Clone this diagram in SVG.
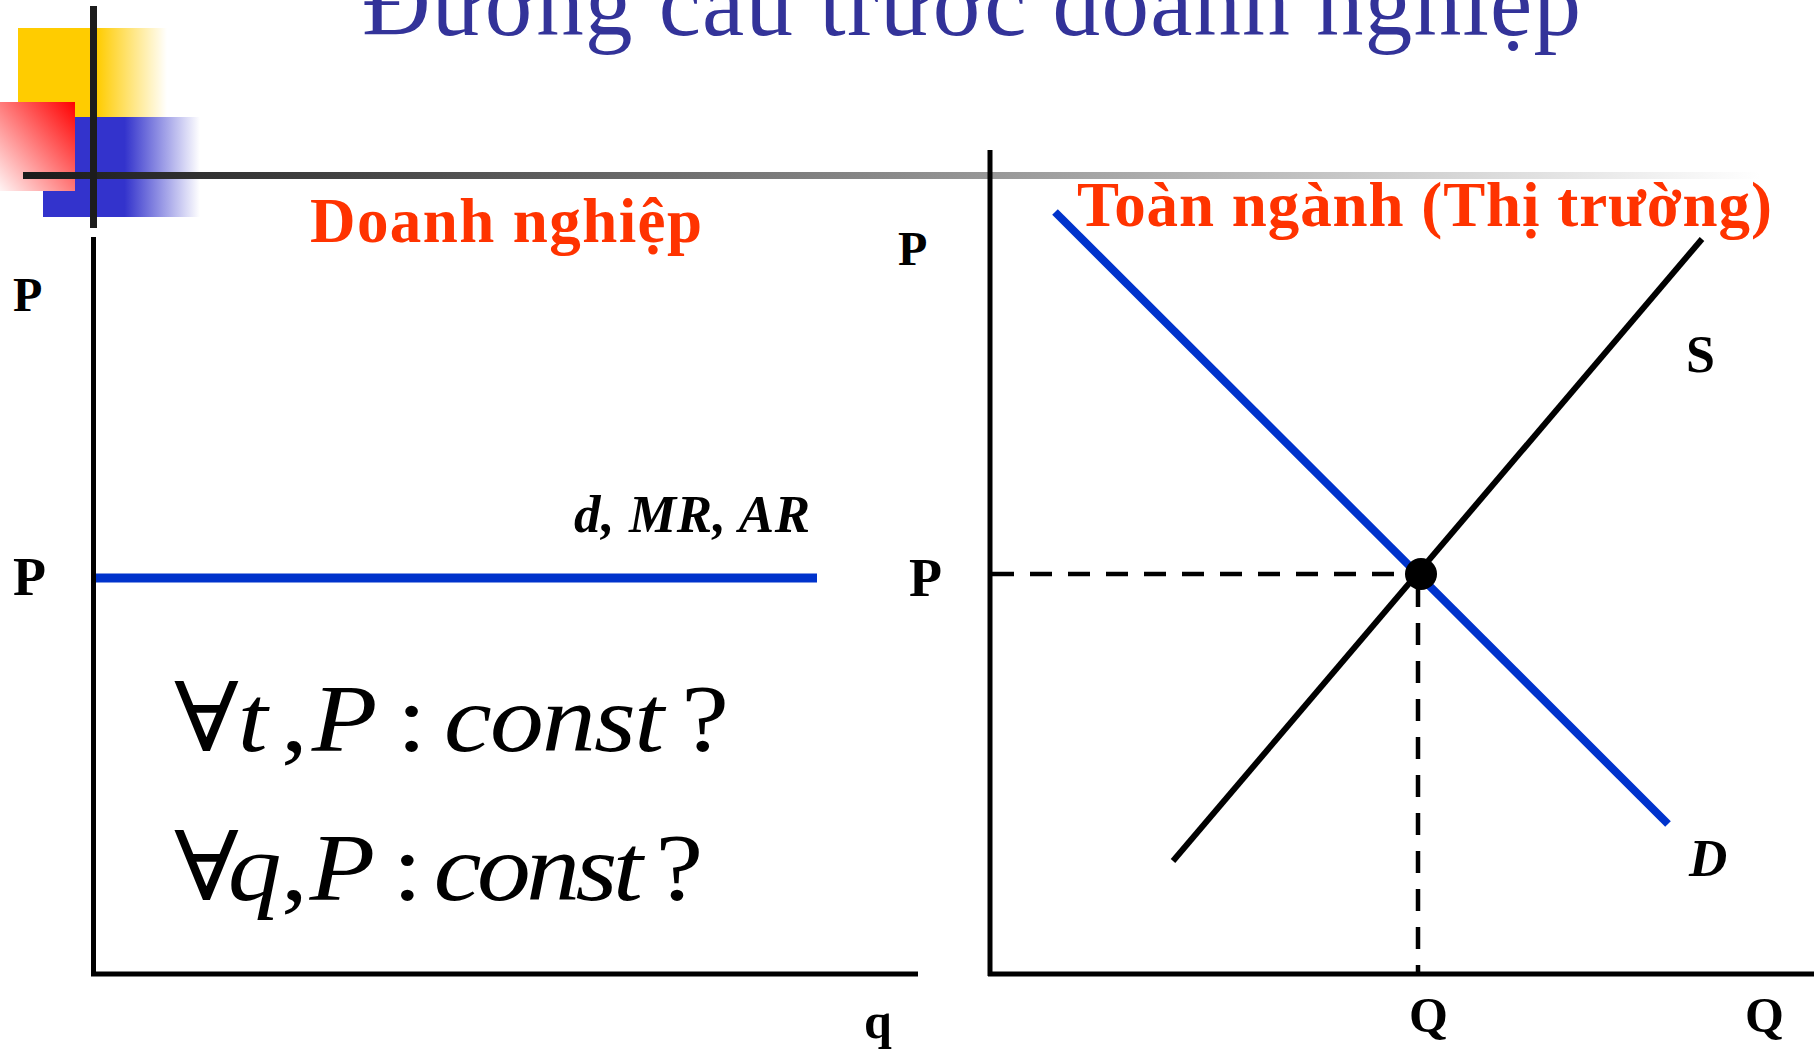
<svg xmlns="http://www.w3.org/2000/svg" width="1814" height="1052" viewBox="0 0 1814 1052">
<defs>
<linearGradient id="gYellow" x1="0" y1="0" x2="1" y2="0">
<stop offset="0" stop-color="#FFCC00"/><stop offset="0.53" stop-color="#FFCC00"/><stop offset="1" stop-color="#FFCC00" stop-opacity="0"/>
</linearGradient>
<linearGradient id="gBlue" x1="0" y1="0" x2="1" y2="0">
<stop offset="0" stop-color="#3333CC"/><stop offset="0.52" stop-color="#3333CC"/><stop offset="1" stop-color="#3333CC" stop-opacity="0"/>
</linearGradient>
<linearGradient id="gRed" x1="1" y1="0" x2="0" y2="1">
<stop offset="0" stop-color="#FF0000"/><stop offset="1" stop-color="#FFF4F4"/>
</linearGradient>
<linearGradient id="gBar" gradientUnits="userSpaceOnUse" x1="23" y1="0" x2="1760" y2="0">
<stop offset="0" stop-color="#1a1a1a"/><stop offset="0.5" stop-color="#8a8a8a"/><stop offset="1" stop-color="#ffffff"/>
</linearGradient>
<style>
.ax{stroke:#000;stroke-width:5;fill:none}
.dash{stroke:#000;stroke-width:4.5;stroke-dasharray:22 16;fill:none}
.lbl{font-family:"Liberation Serif","Times New Roman",serif;font-weight:bold;fill:#000}
.red{font-family:"Liberation Serif","Times New Roman",serif;font-weight:bold;fill:#FF3300;font-size:63px}
.math{font-family:"Liberation Serif","DejaVu Serif",serif;font-size:96px;fill:#000}
.it{font-style:italic}
</style>
</defs>
<g id="decoration">
<rect x="18" y="28" width="149" height="89" fill="url(#gYellow)"/>
<rect x="43" y="117" width="157" height="100" fill="url(#gBlue)"/>
<rect x="0" y="102" width="75" height="89" fill="url(#gRed)"/>
<rect x="23" y="172" width="1740" height="7" fill="url(#gBar)"/>
<rect x="90" y="6" width="7" height="222" fill="#1c1c1c"/>
</g>
<g id="title">
<text x="362" y="35" font-family="'Liberation Serif','Times New Roman',serif" font-size="95" fill="#333399" textLength="1219">Đường cầu trước doanh nghiệp</text>
</g>
<g id="connectors">
<line class="ax" x1="93.5" y1="237" x2="93.5" y2="976"/>
<line class="ax" x1="91" y1="974" x2="918" y2="974"/>
<line class="ax" x1="990" y1="150" x2="990" y2="976"/>
<line class="ax" x1="988" y1="974" x2="1814" y2="974"/>
<line x1="96" y1="578" x2="817" y2="578" stroke="#0033CC" stroke-width="9"/>
<line class="dash" x1="992" y1="574" x2="1410" y2="574"/>
<line class="dash" x1="1418" y1="585" x2="1418" y2="972"/>
<line x1="1055" y1="212" x2="1668" y2="824" stroke="#0033CC" stroke-width="8"/>
<line x1="1173" y1="861" x2="1702" y2="239" stroke="#000" stroke-width="6"/>
<circle cx="1421" cy="574" r="16" fill="#000"/>
</g>
<g id="labels">
<text class="red" x="310" y="242" textLength="392">Doanh nghiệp</text>
<text class="red" x="1077" y="226" textLength="695">Toàn ngành (Thị trường)</text>
<text class="lbl" x="13" y="311" font-size="48">P</text>
<text class="lbl" x="13" y="595" font-size="54">P</text>
<text class="lbl" x="898" y="265" font-size="48">P</text>
<text class="lbl" x="909" y="596" font-size="54">P</text>
<text class="lbl" x="864" y="1038" font-size="50">q</text>
<text class="lbl" x="1409" y="1032" font-size="50">Q</text>
<text class="lbl" x="1745" y="1032" font-size="50">Q</text>
<text class="lbl" x="1686" y="372" font-size="52">S</text>
<text class="lbl it" x="1689" y="876" font-size="53">D</text>
<text class="lbl it" x="574" y="532" font-size="53" textLength="236">d, MR, AR</text>
</g>
<g id="formulas" transform="translate(174 0) scale(1.12 1) translate(-174 0)">
<text class="math" y="751"><tspan x="174">∀</tspan><tspan class="it" x="231">t</tspan><tspan x="269.5">,</tspan><tspan class="it" x="297">P</tspan><tspan x="373">:</tspan><tspan class="it" x="415" letter-spacing="-1.5">const</tspan><tspan x="627">?</tspan></text>
<text class="math" y="900"><tspan x="174">∀</tspan><tspan class="it" x="222">q</tspan><tspan x="269.5">,</tspan><tspan class="it" x="295">P</tspan><tspan x="369">:</tspan><tspan class="it" x="406" letter-spacing="-4">const</tspan><tspan x="604">?</tspan></text>
</g>
</svg>
